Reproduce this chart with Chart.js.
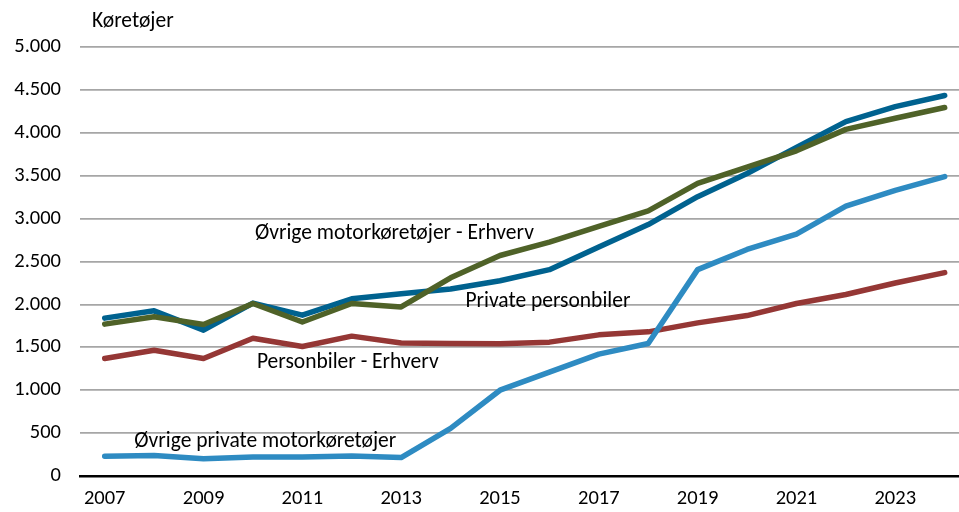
<!DOCTYPE html>
<html>
<head>
<meta charset="utf-8">
<script src="https://cdn.jsdelivr.net/npm/chart.js@4"></script>
<style>
  body { margin: 0; background: #fff; overflow: hidden; }
</style>
</head>
<body>
<canvas id="myChart" width="959" height="512"></canvas>
<script>
const years = [2007, 2008, 2009, 2010, 2011, 2012, 2013, 2014, 2015, 2016, 2017, 2018, 2019, 2020, 2021, 2022, 2023, 2024]
const tickYears = [2007, 2009, 2011, 2013, 2015, 2017, 2019, 2021, 2023]

// køretøjer per serie
const privatePersonbiler = [1840, 1925, 1700, 2015, 1875, 2065, 2125, 2180, 2275, 2405, 2670, 2930, 3255, 3525, 3830, 4130, 4305, 4435]
const ovrigeErhverv = [1770, 1855, 1765, 2010, 1795, 2010, 1970, 2310, 2570, 2725, 2910, 3090, 3410, 3600, 3790, 4040, 4170, 4295]
const personbilerErhverv = [1370, 1465, 1370, 1605, 1510, 1630, 1550, 1545, 1540, 1560, 1645, 1680, 1785, 1870, 2010, 2115, 2250, 2370]
const ovrigePrivate = [230, 240, 200, 222, 222, 232, 215, 555, 1000, 1210, 1420, 1545, 2405, 2640, 2820, 3145, 3330, 3490]

const yTicks = [0, 500, 1000, 1500, 2000, 2500, 3000, 3500, 4000, 4500, 5000]

const fontFamily = 'Carlito, Lato, "Open Sans", sans-serif'

const toPoints = vals => vals.map((v, i) => ({ x: years[i], y: v }))
const fmt = v => String(v).replace(/\B(?=(\d{3})+(?!\d))/g, '.')

// tekst ved linjene, i dataverdier
const lineLabels = [
  { text: 'Øvrige motorkøretøjer - Erhverv', x: 2010.04, y: 2830 },
  { text: 'Private personbiler', x: 2014.3, y: 2035 },
  { text: 'Personbiler - Erhverv', x: 2010.08, y: 1325 },
  { text: 'Øvrige private motorkøretøjer', x: 2007.6, y: 405 }
]

const textPlugin = {
  id: 'textPlugin',
  afterDatasetsDraw(chart) {
    const { ctx, scales, chartArea } = chart
    ctx.save()
    ctx.fillStyle = '#000'
    ctx.font = '21.5px ' + fontFamily
    ctx.textBaseline = 'middle'
    ctx.textAlign = 'left'
    lineLabels.forEach(l => {
      ctx.fillText(l.text, scales.x.getPixelForValue(l.x), scales.y.getPixelForValue(l.y))
    })
    ctx.fillText('Køretøjer', chartArea.left + 12, 22)
    ctx.restore()
  }
}

const mkSet = (label, vals, color, order) => ({
  label: label,
  data: toPoints(vals),
  borderColor: color,
  backgroundColor: color,
  borderWidth: 5.5,
  pointRadius: 0,
  tension: 0,
  borderCapStyle: 'round',
  borderJoinStyle: 'round',
  order: order
})

const ctx = document.getElementById('myChart')

new Chart(ctx, {
  type: 'line',
  data: {
    datasets: [
      mkSet('Øvrige motorkøretøjer - Erhverv', ovrigeErhverv, '#4F6228', 1),
      mkSet('Private personbiler', privatePersonbiler, '#00628F', 2),
      mkSet('Øvrige private motorkøretøjer', ovrigePrivate, '#2E8BC2', 3),
      mkSet('Personbiler - Erhverv', personbilerErhverv, '#953735', 4)
    ]
  },
  options: {
    responsive: false,
    devicePixelRatio: 1,
    animation: false,
    layout: { padding: { top: 47, right: 0, left: 0, bottom: 0 } },
    plugins: {
      legend: { display: false },
      tooltip: { enabled: false }
    },
    scales: {
      x: {
        type: 'linear',
        min: 2006.5,
        max: 2024.29,
        afterBuildTicks: ax => { ax.ticks = tickYears.map(v => ({ value: v })) },
        afterFit: ax => { ax.height = 36 },
        grid: { display: false, drawTicks: false },
        border: { display: true, color: '#000', width: 2.5 },
        ticks: {
          autoSkip: false,
          maxRotation: 0,
          padding: 11,
          color: '#000',
          font: { size: 20.5, family: fontFamily },
          callback: v => String(v)
        }
      },
      y: {
        min: 0,
        max: 5000,
        afterBuildTicks: ax => { ax.ticks = yTicks.map(v => ({ value: v })) },
        afterFit: ax => { ax.width = 80 },
        grid: { color: '#A6A6A6', lineWidth: 1.8, drawTicks: false },
        border: { display: false },
        ticks: {
          padding: 19,
          color: '#000',
          font: { size: 20.5, family: fontFamily },
          callback: v => fmt(v)
        }
      }
    }
  },
  plugins: [textPlugin]
})
</script>
</body>
</html>
